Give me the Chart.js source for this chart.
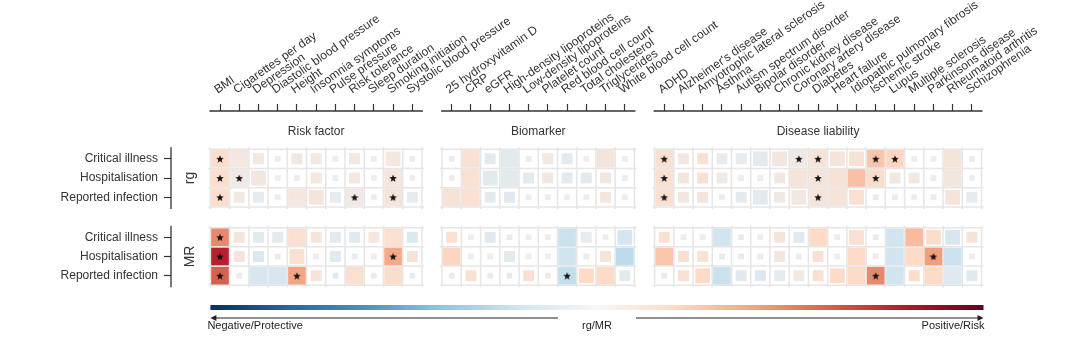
<!DOCTYPE html>
<html>
<head>
<meta charset="utf-8">
<script src="https://cdn.jsdelivr.net/npm/chart.js@4.4.0/dist/chart.umd.min.js"></script>
<style>
  html, body { margin: 0; padding: 0; background: #fff; }
  #wrap { width: 1080px; height: 351px; }
</style>
</head>
<body>
<div id="wrap"><canvas id="heat" width="1080" height="351"></canvas></div>
<script>
// column labels, one array per panel
const riskFactors = ['BMI', 'Cigarettes per day', 'Depression', 'Diastolic blood pressure', 'Height',
  'Insomnia symptoms', 'Pulse pressure', 'Risk tolerance', 'Sleep duration', 'Smoking initiation',
  'Systolic blood pressure'];
const biomarkers = ['25 hydroxyvitamin D', 'CRP', 'eGFR', 'High-density lipoproteins', 'Low-density lipoproteins',
  'Platelet count', 'Red blood cell count', 'Total cholesterol', 'Triglycerides', 'White blood cell count'];
const diseases = ['ADHD', "Alzheimer's disease", 'Amyotrophic lateral sclerosis', 'Asthma', 'Autism spectrum disorder',
  'Bipolar disorder', 'Chronic kidney disease', 'Coronary artery disease', 'Diabetes', 'Heart failure',
  'Idiopathic pulmonary fibrosis', 'Ischemic stroke', 'Lupus', 'Multiple sclerosis', 'Parkinsons disease',
  'Rheumatoid arthritis', 'Schizophrenia'];
const panelTitles = ['Risk factor', 'Biomarker', 'Disease liability'];
const outcomes = ['Critical illness', 'Hospitalisation', 'Reported infection'];
const methods = ['rg', 'MR'];

// effect (colour, -1..1) and marker size (share of the cell), columns = risk factors | biomarkers | diseases
const rgCritical = [
  .17, .07, .06, .02, .06, .07, 0, .07, 0, .07, 0,
  0, .14, -.07, -.07, .02, .06, -.07, 0, .10, 0,
  .15, .08, .15, -.04, -.06, -.07, .08, .05, .10, .10, .12, .28, .22, 0, 0, .10, 0];
const rgCriticalSize = [
  1, 1, .62, .33, .62, .62, .33, .62, .33, .84, .33,
  .33, 1, .62, 1, .33, .62, .62, .33, 1, .33,
  1, .62, .62, .62, .62, .84, .84, 1, 1, .84, .84, 1, 1, .33, .33, 1, .33];
const rgHosp = [
  .17, .04, .08, 0, 0, .07, 0, .07, 0, .08, 0,
  0, .15, -.07, -.08, -.07, .06, -.07, -.08, .08, 0,
  .15, .08, .15, .05, 0, 0, .06, .10, .10, .12, .30, .18, .08, .06, 0, .08, 0];
const rgHospSize = [
  1, 1, .84, .33, .33, .62, .33, .62, .33, 1, .33,
  .33, 1, .84, 1, .62, .62, .62, .62, .62, .33,
  1, .62, .62, .62, .33, .33, .62, 1, 1, 1, 1, 1, .62, .62, .33, 1, .33];
const rgReported = [
  .17, .06, -.04, 0, .07, .10, -.06, .04, 0, .10, -.06,
  .12, .14, -.07, -.10, 0, 0, 0, 0, .08, 0,
  .15, .08, .10, 0, -.07, -.08, .06, .06, .10, .10, .15, .03, .03, 0, 0, .10, -.06];
const rgReportedSize = [
  1, .62, .62, .33, 1, .84, .62, 1, .33, 1, .62,
  1, 1, .62, .62, .33, .33, .33, .33, .62, .33,
  1, .62, .62, .33, .62, .84, .62, .84, 1, 1, .84, .33, .33, .33, .33, .84, .62];
const mrCritical = [
  .48, .10, -.08, -.08, .15, .10, -.07, -.10, .07, .15, -.12,
  .15, 0, -.10, -.03, 0, 0, -.22, -.06, 0, -.18,
  .15, 0, 0, -.20, .03, 0, .10, -.10, .20, 0, .15, .03, -.20, .32, .18, -.15, .12];
const mrCriticalSize = [
  1, .62, .62, .62, 1, .62, .62, .62, .62, 1, .62,
  .62, .33, .62, .33, .33, .33, 1, .62, .33, .84,
  .62, .33, .33, 1, .33, .33, .62, .62, 1, .33, .84, .33, 1, 1, .84, .84, .62];
const mrHosp = [
  .78, .10, -.12, .03, .15, 0, -.10, -.05, 0, .38, .12,
  .22, 0, 0, -.08, 0, 0, -.20, 0, .10, -.26,
  .28, .15, .12, -.05, -.05, .03, .08, .03, .15, 0, .20, .03, -.20, .20, .42, -.22, 0];
const mrHospSize = [
  1, .62, .62, .33, .84, .33, .62, .33, .33, 1, .62,
  1, .33, .33, .62, .33, .33, 1, .33, .62, 1,
  1, .62, .62, .33, .33, .33, .62, .33, .62, .33, 1, .33, 1, 1, 1, 1, .33];
const mrReported = [
  .60, .03, -.15, -.15, .40, .10, -.08, .15, .05, .18, -.04,
  -.05, .15, .05, -.06, .15, .05, -.24, .20, .20, -.08,
  .05, .15, .20, -.22, -.10, -.12, -.06, .06, .15, .20, .20, .48, -.20, .18, .20, -.10, -.10];
const mrReportedSize = [
  1, .33, 1, 1, 1, .62, .33, 1, .33, 1, .33,
  .33, .62, .33, .33, .62, .33, 1, .84, 1, .62,
  .33, .62, .84, 1, .62, .62, .62, .62, .62, .84, 1, 1, 1, .62, 1, 1, .62];

// starred (significant) cells, as column index
const rgCriticalStars = [0, 21, 28, 29, 32, 33];
const rgHospStars = [0, 1, 9, 21, 29, 32];
const rgReportedStars = [0, 7, 9, 21, 29];
const mrCriticalStars = [0];
const mrHospStars = [0, 9, 35];
const mrReportedStars = [0, 4, 17, 32];

// ---- layout (pixels) ----
const FONT = "'Liberation Sans', Arial, sans-serif";
const area = { left: 171, top: 111, right: 1000, bottom: 292 };
const unit = 19.23;            // one cell
const firstCol = 220, firstRow = 158.8;
const colGap = 1.05, rowGap = 1.08;

const panels = [riskFactors, biomarkers, diseases];
const colLabels = [].concat(...panels);
const colPos = [];
const panelSpan = [];
let p0 = 0;
panels.forEach(list => {
  panelSpan.push([p0, p0 + list.length - 1]);
  list.forEach((_, i) => colPos.push(p0 + i));
  p0 += list.length + colGap;
});
const rowPos = [0, 1, 2, 3 + rowGap, 4 + rowGap, 5 + rowGap];
const rowLabels = outcomes.concat(outcomes);
const groupSpan = [[0, 2], [3 + rowGap, 5 + rowGap]];

const xMin = -(firstCol - area.left) / unit;
const xMax = xMin + (area.right - area.left) / unit;
const yMin = -(firstRow - area.top) / unit;
const yMax = yMin + (area.bottom - area.top) / unit;

// RdBu reversed, with a slightly grey middle for the cells
const cmap = ['#053061', '#2166ac', '#4393c3', '#92c5de', '#d1e5f0', '#ededed',
  '#fddbc7', '#f4a582', '#d6604d', '#b2182b', '#67001f'];
const barStops = ['#053061', '#2166ac', '#4393c3', '#92c5de', '#d1e5f0', '#f7f7f7',
  '#fddbc7', '#f4a582', '#d6604d', '#b2182b', '#67001f'];
function hexRgb(h) {
  return [parseInt(h.slice(1, 3), 16), parseInt(h.slice(3, 5), 16), parseInt(h.slice(5, 7), 16)];
}
function colourFor(v) {
  const t = Math.max(0, Math.min(1, (v + 1) / 2)) * (cmap.length - 1);
  const i = Math.min(Math.floor(t), cmap.length - 2);
  const f = t - i;
  const a = hexRgb(cmap[i]), b = hexRgb(cmap[i + 1]);
  const c = a.map((x, k) => Math.round(x + (b[k] - x) * f));
  return `rgb(${c[0]},${c[1]},${c[2]})`;
}

function makeStar(size) {
  const c = document.createElement('canvas');
  c.width = c.height = size;
  const g = c.getContext('2d');
  g.fillStyle = '#111';
  g.beginPath();
  for (let i = 0; i < 10; i++) {
    const r = i % 2 ? size * 0.21 : size * 0.5;
    const a = -Math.PI / 2 + i * Math.PI / 5;
    g.lineTo(size / 2 + r * Math.cos(a), size / 2 + r * Math.sin(a) + size * 0.06);
  }
  g.closePath();
  g.fill();
  return c;
}

// build point lists
const rows = [
  [rgCritical, rgCriticalSize, rgCriticalStars],
  [rgHosp, rgHospSize, rgHospStars],
  [rgReported, rgReportedSize, rgReportedStars],
  [mrCritical, mrCriticalSize, mrCriticalStars],
  [mrHosp, mrHospSize, mrHospStars],
  [mrReported, mrReportedSize, mrReportedStars]
];
const cells = [];
const stars = [];
rows.forEach(([vals, sizes, starCols], r) => {
  vals.forEach((v, c) => cells.push({ x: colPos[c], y: rowPos[r], v: v, s: sizes[c] }));
  starCols.forEach(c => stars.push({ x: colPos[c], y: rowPos[r] }));
});

function cellPx(chart) {
  const sx = chart.scales.x;
  return Math.abs(sx.getPixelForValue(1) - sx.getPixelForValue(0));
}

// light grey cell grid behind the squares
const cellGrid = {
  id: 'cellGrid',
  beforeDatasetsDraw(chart) {
    const { ctx, scales: { x, y } } = chart;
    ctx.save();
    ctx.strokeStyle = '#e6e6e6';
    ctx.lineWidth = 1.5;
    panelSpan.forEach(([c0, c1]) => {
      groupSpan.forEach(([r0, r1]) => {
        const xl = x.getPixelForValue(c0 - 0.5), xr = x.getPixelForValue(c1 + 0.5);
        const yt = y.getPixelForValue(r0 - 0.5), yb = y.getPixelForValue(r1 + 0.5);
        ctx.beginPath();
        for (let c = c0 - 0.5; c <= c1 + 0.51; c++) {
          const px = x.getPixelForValue(c);
          ctx.moveTo(px, yt - 2);
          ctx.lineTo(px, yb + 2);
        }
        for (let r = r0 - 0.5; r <= r1 + 0.51; r++) {
          const py = y.getPixelForValue(r);
          ctx.moveTo(xl - 2, py);
          ctx.lineTo(xr + 2, py);
        }
        ctx.stroke();
      });
    });
    ctx.restore();
  }
};

// axis segments, panel titles, method labels, colour bar
const decorations = {
  id: 'decorations',
  afterDraw(chart) {
    const { ctx, scales: { x, y }, chartArea } = chart;
    ctx.save();
    ctx.strokeStyle = '#333';
    ctx.fillStyle = '#333';
    ctx.lineWidth = 1.3;
    ctx.beginPath();
    panelSpan.forEach(([c0, c1]) => {
      ctx.moveTo(x.getPixelForValue(c0 - 0.5) - 1, chartArea.top);
      ctx.lineTo(x.getPixelForValue(c1 + 0.5) + 1, chartArea.top);
    });
    groupSpan.forEach(([r0, r1]) => {
      ctx.moveTo(chartArea.left, y.getPixelForValue(r0 - 0.5) - 2);
      ctx.lineTo(chartArea.left, y.getPixelForValue(r1 + 0.5) + 2);
    });
    ctx.stroke();

    ctx.font = `12px ${FONT}`;
    ctx.textAlign = 'center';
    ctx.textBaseline = 'middle';
    panelSpan.forEach(([c0, c1], i) => {
      ctx.fillText(panelTitles[i], (x.getPixelForValue(c0) + x.getPixelForValue(c1)) / 2, chartArea.top + 21);
    });

    ctx.font = `14px ${FONT}`;
    groupSpan.forEach(([r0, r1], i) => {
      ctx.save();
      ctx.translate(chartArea.left + 19, (y.getPixelForValue(r0) + y.getPixelForValue(r1)) / 2);
      ctx.rotate(-Math.PI / 2);
      ctx.fillText(methods[i], 0, 0);
      ctx.restore();
    });

    // colour bar
    const bl = x.getPixelForValue(-0.5);
    const br = x.getPixelForValue(colPos[colPos.length - 1] + 0.5) + 2;
    const grad = ctx.createLinearGradient(bl, 0, br, 0);
    barStops.forEach((c, i) => grad.addColorStop(i / (barStops.length - 1), c));
    ctx.fillStyle = grad;
    ctx.fillRect(bl, 305, br - bl, 5);

    // arrows
    const mid = (bl + br) / 2, ay = 318;
    ctx.strokeStyle = '#222';
    ctx.fillStyle = '#222';
    ctx.lineWidth = 1.2;
    ctx.beginPath();
    ctx.moveTo(bl + 3, ay); ctx.lineTo(mid - 39, ay);
    ctx.moveTo(mid + 39, ay); ctx.lineTo(br - 3, ay);
    ctx.stroke();
    ctx.beginPath();
    ctx.moveTo(bl, ay); ctx.lineTo(bl + 6, ay - 3); ctx.lineTo(bl + 6, ay + 3); ctx.closePath();
    ctx.moveTo(br, ay); ctx.lineTo(br - 6, ay - 3); ctx.lineTo(br - 6, ay + 3); ctx.closePath();
    ctx.fill();

    ctx.font = `11px ${FONT}`;
    ctx.fillStyle = '#222';
    ctx.textBaseline = 'middle';
    ctx.textAlign = 'left';
    ctx.fillText('Negative/Protective', bl - 3, 326);
    ctx.textAlign = 'center';
    ctx.fillText('rg/MR', mid, 326);
    ctx.textAlign = 'right';
    ctx.fillText('Positive/Risk', br + 1, 326);
    ctx.restore();
  }
};

Chart.defaults.font.family = FONT;

new Chart(document.getElementById('heat'), {
  type: 'scatter',
  data: {
    datasets: [{
      label: 'significant',
      data: stars,
      order: -1,
      pointStyle: makeStar(8),
      pointRadius: 4
    }, {
      label: 'estimate',
      data: cells,
      pointStyle: 'rect',
      backgroundColor: ctx => colourFor(ctx.raw.v),
      borderWidth: 0,
      pointRadius: ctx => ctx.raw.s * (cellPx(ctx.chart) - 1.6) / 2 / Math.SQRT1_2
    }]
  },
  options: {
    responsive: false,
    animation: false,
    events: [],
    layout: { autoPadding: false, padding: { top: 0, left: 0, right: 1080 - area.right, bottom: 351 - area.bottom } },
    plugins: { legend: { display: false }, tooltip: { enabled: false } },
    scales: {
      x: {
        type: 'linear',
        position: 'top',
        min: xMin,
        max: xMax,
        afterBuildTicks: s => { s.ticks = colPos.map(v => ({ value: v })); },
        afterFit: s => { s.height = area.top; s.paddingLeft = 0; s.paddingRight = 0; },
        ticks: {
          autoSkip: false,
          minRotation: 35,
          maxRotation: 35,
          padding: 7,
          labelOffset: 4,
          color: '#333',
          font: { size: 12 },
          callback: (v, i) => colLabels[i]
        },
        grid: { drawOnChartArea: false, tickLength: 7, tickColor: '#333', tickWidth: 1.2 },
        border: { display: false }
      },
      y: {
        type: 'linear',
        reverse: true,
        min: yMin,
        max: yMax,
        afterBuildTicks: s => { s.ticks = rowPos.map(v => ({ value: v })); },
        afterFit: s => { s.width = area.left; s.paddingTop = 0; s.paddingBottom = 0; },
        ticks: {
          autoSkip: false,
          padding: 6,
          color: '#333',
          font: { size: 12 },
          callback: (v, i) => rowLabels[i]
        },
        grid: { drawOnChartArea: false, tickLength: 7, tickColor: '#333', tickWidth: 1.2 },
        border: { display: false }
      }
    }
  },
  plugins: [cellGrid, decorations]
});
</script>
</body>
</html>
